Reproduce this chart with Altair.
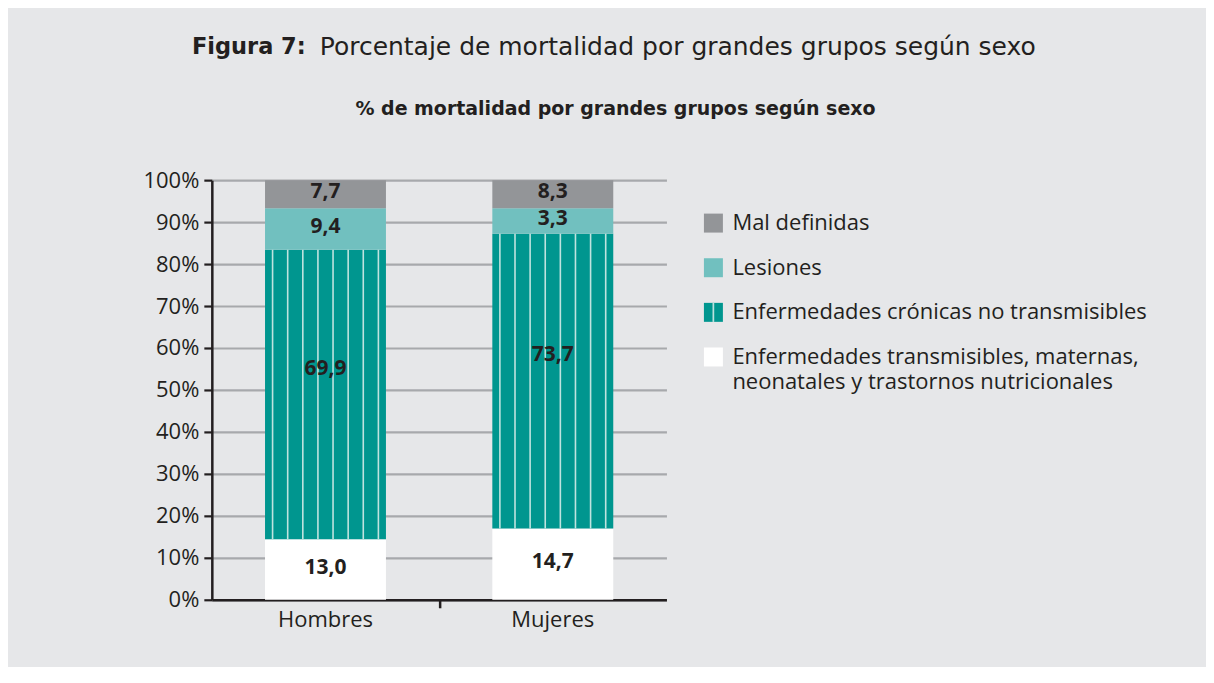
import altair as alt
import pandas as pd

# ---------------- data ----------------
sexos = ["Hombres", "Mujeres"]
grupos = [
    "Enfermedades transmisibles, maternas, neonatales y trastornos nutricionales",
    "Enfermedades crónicas no transmisibles",
    "Lesiones",
    "Mal definidas",
]
colores = ["#ffffff", "#00968f", "#71c0bf", "#939598"]
# segment heights as drawn in the bars (%)
alto_hombres = [14.4, 69.0, 9.9, 6.7]
alto_mujeres = [17.0, 70.2, 6.1, 6.7]
# printed values
etiq_hombres = ["13,0", "69,9", "9,4", "7,7"]
etiq_mujeres = ["14,7", "73,7", "3,3", "8,3"]
y_ticks = [0, 10, 20, 30, 40, 50, 60, 70, 80, 90, 100]

leyenda_orden = ["Mal definidas", "Lesiones",
                 "Enfermedades crónicas no transmisibles",
                 "Enfermedades transmisibles, maternas, neonatales y trastornos nutricionales"]
leyenda_texto = [["Mal definidas"], ["Lesiones"],
                 ["Enfermedades crónicas no transmisibles"],
                 ["Enfermedades transmisibles, maternas,", "neonatales y trastornos nutricionales"]]

titulo_bold = "Figura 7:"
titulo_resto = "Porcentaje de mortalidad por grandes grupos según sexo"
subtitulo = "% de mortalidad por grandes grupos según sexo"

n_rayas = 8

# ---------------- build tables ----------------
rows = []
for sexo, altos, etiq in [("Hombres", alto_hombres, etiq_hombres), ("Mujeres", alto_mujeres, etiq_mujeres)]:
    acc = 0.0
    for g, h, e in zip(grupos, altos, etiq):
        rows.append({"sexo": sexo, "grupo": g, "y0": acc, "y1": acc + h,
                     "mid": acc + h / 2, "label": e})
        acc += h
df = pd.DataFrame(rows)

cron = df[df.grupo == grupos[1]]
rayas = []
for _, r in cron.iterrows():
    for k in range(n_rayas):
        rayas.append({"sexo": r.sexo, "k": k, "y0": r.y0, "y1": r.y1})
df_rayas = pd.DataFrame(rayas)

df_leg = pd.DataFrame({"grupo": leyenda_orden, "texto": leyenda_texto})

FONT = "Open Sans"
TFONT = "DejaVu Sans"
TXT = "#231f20"
BG = "#e6e7e9"
STRIPE = "#bfe3df"

x_enc = alt.X("sexo:N", sort=sexos,
              scale=alt.Scale(paddingInner=0.468, paddingOuter=0.234),
              axis=alt.Axis(title=None, labelAngle=0, ticks=False, domainColor=TXT,
                            domainWidth=2.5, labelFontSize=22, labelColor=TXT,
                            labelFont=FONT, labelPadding=10, grid=False))

bars = alt.Chart(df).mark_bar().encode(
    x=x_enc,
    y=alt.Y("y0:Q", scale=alt.Scale(domain=[0, 100], nice=False),
            axis=alt.Axis(title=None, values=y_ticks, labelExpr="datum.value + '%'",
                          grid=True, gridColor="#a7a9ac", gridWidth=2.2,
                          tickColor=TXT, tickSize=8, tickWidth=2.2,
                          domainColor=TXT, domainWidth=2.5,
                          labelFontSize=22, labelColor=TXT, labelFont=FONT,
                          labelPadding=5, minExtent=70, maxExtent=70)),
    y2="y1:Q",
    color=alt.Color("grupo:N", scale=alt.Scale(domain=grupos, range=colores), legend=None),
)

stripes = alt.Chart(df_rayas).mark_rule(color=STRIPE, strokeWidth=1.6).encode(
    x=alt.X("sexo:N", sort=sexos,
            axis=alt.Axis(values=["Mujeres"], labels=False, domain=False, ticks=True,
                          bandPosition=0.5, tickOffset=-113.75, tickSize=8, tickWidth=2.5,
                          tickColor=TXT, grid=False, title=None, orient="bottom")),
    xOffset=alt.XOffset("k:O", scale=alt.Scale(paddingInner=0, paddingOuter=0)),
    y="y0:Q",
    y2="y1:Q",
)

x_none = alt.X("sexo:N", sort=sexos, axis=None)
labels = alt.Chart(df).mark_text(font=FONT, fontWeight="bold", fontSize=21, color=TXT, dy=-2).transform_filter(
    alt.datum.grupo != grupos[1]).encode(x=x_none, y="mid:Q", text="label:N")
labels_cron = alt.Chart(df).mark_text(font=FONT, fontWeight="bold", fontSize=21,
                                      color=TXT, dy=-26).transform_filter(
    alt.datum.grupo == grupos[1]).encode(x=x_none, y="mid:Q", text="label:N")

left = alt.layer(bars, stripes, labels, labels_cron).resolve_axis(x="independent").properties(
    width=455, height=420)

# ---------------- legend panel ----------------
y_leg = alt.Y("grupo:N", sort=leyenda_orden,
              scale=alt.Scale(type="point", range=[43, 177], padding=0), axis=None)
sym = alt.Chart(df_leg).mark_square(size=361, opacity=1, filled=True).encode(
    y=y_leg, x=alt.value(37),
    color=alt.Color("grupo:N", scale=alt.Scale(domain=grupos, range=colores), legend=None))
sym_stripes = [
    alt.Chart(df_leg).transform_filter(alt.datum.grupo == grupos[1]).mark_tick(
        orient="vertical", color=STRIPE, thickness=1.4, size=19, dx=d).encode(
        y=y_leg, x=alt.value(37))
    for d in (-4.75, 0, 4.75)
]
leg_txt = alt.Chart(df_leg).mark_text(font=FONT, fontSize=22, color=TXT, align="left",
                                      baseline="alphabetic", dy=7, lineHeight=25).encode(
    y=y_leg, x=alt.value(56), text="texto")
legend = alt.layer(sym, *sym_stripes, leg_txt).properties(width=480, height=241)

# ---------------- header ----------------
one = pd.DataFrame({"a": [0]})
h1 = alt.Chart(one).mark_text(text=titulo_bold, font=TFONT, fontWeight="bold", fontSize=22.5,
                              color=TXT, align="right", baseline="middle").encode(
    x=alt.value(94), y=alt.value(38.5))
h2 = alt.Chart(one).mark_text(text=titulo_resto, font=TFONT, fontSize=25, color=TXT,
                              align="left", baseline="middle").encode(
    x=alt.value(108), y=alt.value(38.5))
h3 = alt.Chart(one).mark_text(text=subtitulo, font=TFONT, fontWeight="bold", fontSize=19,
                              color=TXT, align="center", baseline="middle").encode(
    x=alt.value(404), y=alt.value(101))
header = alt.layer(h1, h2, h3).properties(width=950, height=150)

body = alt.hconcat(left, legend, spacing=10)
chart = alt.vconcat(header, body, spacing=11).properties(
    padding={"left": 134, "top": 0, "right": 45, "bottom": 36},
    background=BG,
).configure_view(stroke=None)

chart.save("out.html", embed_options={"renderer": "svg", "actions": False})
